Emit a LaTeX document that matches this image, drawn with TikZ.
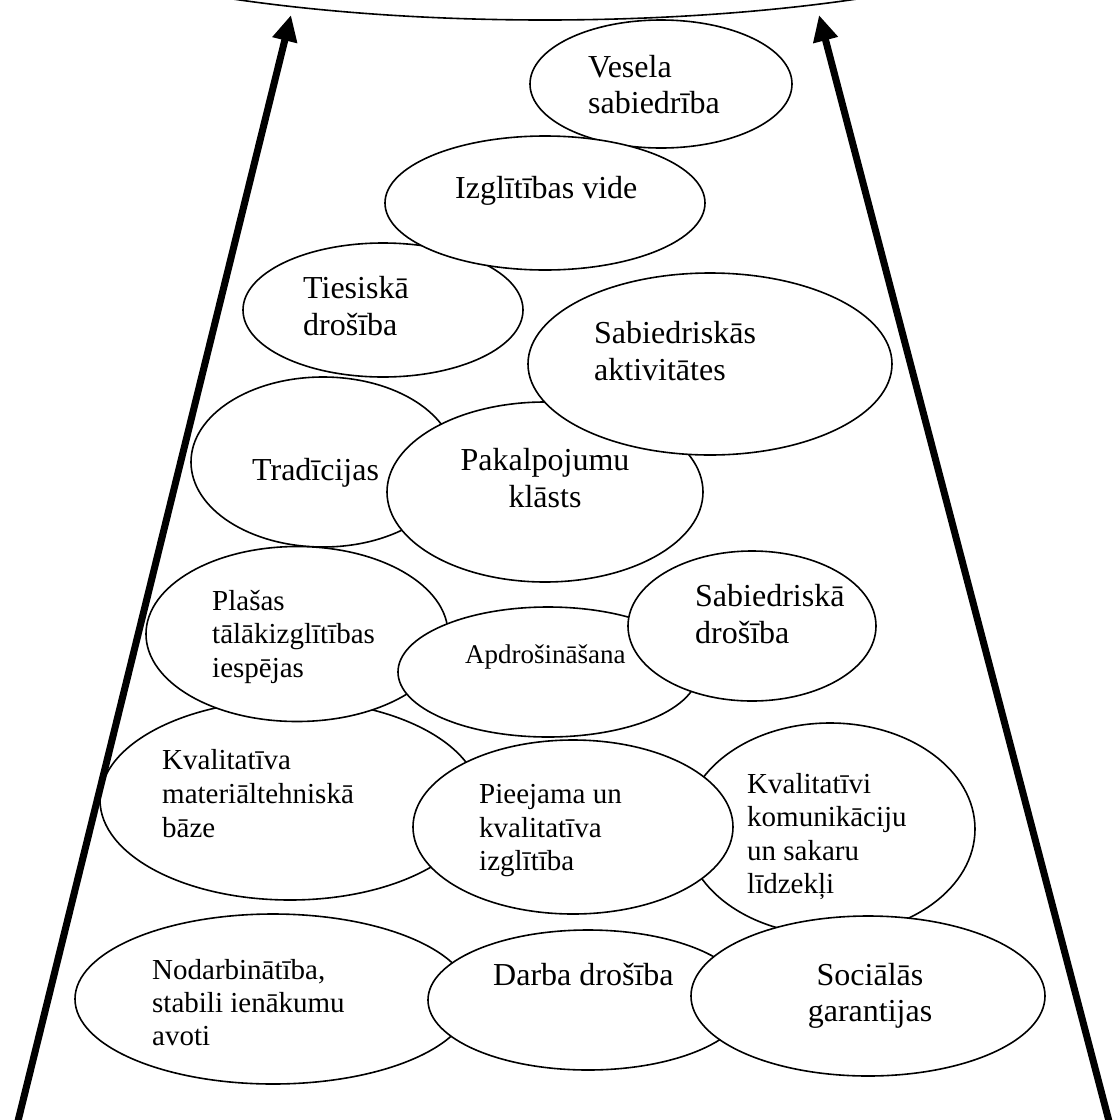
\documentclass[tikz,border=0pt]{standalone}
\usepackage{fontspec}
\setmainfont{Liberation Serif}
\usetikzlibrary{arrows.meta,shapes.geometric}
\newcommand{\fA}{\fontsize{32}{37}\selectfont}
\newcommand{\fB}{\fontsize{29}{33.5}\selectfont}
\newcommand{\fC}{\fontsize{27}{31}\selectfont}
\begin{document}
\begin{tikzpicture}[x=1pt,y=-1pt,
  bubble/.style={shape=ellipse, draw=black, fill=white, line width=1.6pt, inner sep=0pt},
  txt/.style={anchor=base west, inner sep=0pt, font=\fA},
  txtB/.style={anchor=base west, inner sep=0pt, font=\fB},
  txtC/.style={anchor=base west, inner sep=0pt, font=\fC},
  txtc/.style={anchor=base, inner sep=0pt, font=\fA},
  bigarrow/.style={line width=7pt, -{Triangle[length=26pt,width=24pt]}}]
\useasboundingbox (0,0) rectangle (1112,1120);
\fill[white] (0,0) rectangle (1112,1120);
% top arc
\begin{scope}
\clip (0,0) rectangle (1112,1120);
\draw[line width=1.6pt] (545,-124) ellipse [x radius=600, y radius=144];
\end{scope}
% Vesela sabiedriba
\node[bubble, minimum width=262pt, minimum height=128pt] (e1) at (661,84) {};
\node[txt] (t1a) at (588,77) {Vesela};
\node[txt] (t1b) at (588,113) {sabiedrība};
% Tiesiska drosiba
\node[bubble, minimum width=280pt, minimum height=134pt] (e3) at (383,310) {};
\node[txt] (t3a) at (303,298) {Tiesiskā};
\node[txt] (t3b) at (303,335) {drošība};
% Izglitibas vide
\node[bubble, minimum width=320pt, minimum height=134pt] (e2) at (545,203) {};
\node[txt] (t2a) at (455,198) {Izglītības vide};
% Tradicijas
\node[bubble, minimum width=264pt, minimum height=170pt] (e5) at (323,462) {};
\node[txt] (t5a) at (252,480) {Tradīcijas};
% Pakalpojumu klasts
\node[bubble, minimum width=316pt, minimum height=180pt] (e6) at (545,492) {};
\node[txtc] (t6a) at (545,470) {Pakalpojumu};
\node[txtc] (t6b) at (545,507) {klāsts};
% Sabiedriskas aktivitates
\node[bubble, minimum width=364pt, minimum height=182pt] (e4) at (710,364) {};
\node[txt] (t4a) at (594,343) {Sabiedriskās};
\node[txt] (t4b) at (594,380) {aktivitātes};
% Kvalitativa materialtehniska baze
\node[bubble, minimum width=380pt, minimum height=200pt] (e10) at (290,800) {};
\node[txtB] (t10a) at (162,769) {Kvalitatīva};
\node[txtB] (t10b) at (162,803) {materiāltehniskā};
\node[txtB] (t10c) at (162,837) {bāze};
% Plasas talakizglitibas iespejas
\node[bubble, minimum width=302pt, minimum height=175pt] (e7) at (297,634) {};
\node[txtB] (t7a) at (212,610) {Plašas};
\node[txtB] (t7b) at (212,643) {tālākizglītības};
\node[txtB] (t7c) at (212,677) {iespējas};
% Apdrosinasana
\node[bubble, minimum width=300pt, minimum height=130pt] (e8) at (548,672) {};
\node[txtC] (t8a) at (465,663) {Apdrošināšana};
% Sabiedriska drosiba
\node[bubble, minimum width=248pt, minimum height=150pt] (e9) at (752,626) {};
\node[txt] (t9a) at (695,606) {Sabiedriskā};
\node[txt] (t9b) at (695,643) {drošība};
% Kvalitativi komunikaciju un sakaru lidzekli
\node[bubble, minimum width=290pt, minimum height=212pt] (e12) at (830,829) {};
\node[txtB] (t12a) at (747,793) {Kvalitatīvi};
\node[txtB] (t12b) at (747,826) {komunikāciju};
\node[txtB] (t12c) at (747,860) {un sakaru};
\node[txtB] (t12d) at (747,893) {līdzekļi};
% Pieejama un kvalitativa izglitiba
\node[bubble, minimum width=320pt, minimum height=174pt] (e11) at (573,827) {};
\node[txtB] (t11a) at (479,803) {Pieejama un};
\node[txtB] (t11b) at (479,837) {kvalitatīva};
\node[txtB] (t11c) at (479,870) {izglītība};
% Nodarbinatiba
\node[bubble, minimum width=396pt, minimum height=170pt] (e13) at (273,999) {};
\node[txtB] (t13a) at (152,979) {Nodarbinātība,};
\node[txtB] (t13b) at (152,1012) {stabili ienākumu};
\node[txtB] (t13c) at (152,1045) {avoti};
% Darba drosiba
\node[bubble, minimum width=320pt, minimum height=140pt] (e14) at (588,1000) {};
\node[txt] (t14a) at (493,985) {Darba drošība};
% Socialas garantijas
\node[bubble, minimum width=354pt, minimum height=160pt] (e15) at (868,996) {};
\node[txtc] (t15a) at (870,985) {Sociālās};
\node[txtc] (t15b) at (870,1021) {garantijas};
% arrows
\coordinate (lb) at (17,1125);
\coordinate (lt) at (291,15);
\coordinate (rb) at (1110,1125);
\coordinate (rt) at (819,15);
\draw[bigarrow] (lb) -- (lt);
\draw[bigarrow] (rb) -- (rt);
\end{tikzpicture}
\end{document}
